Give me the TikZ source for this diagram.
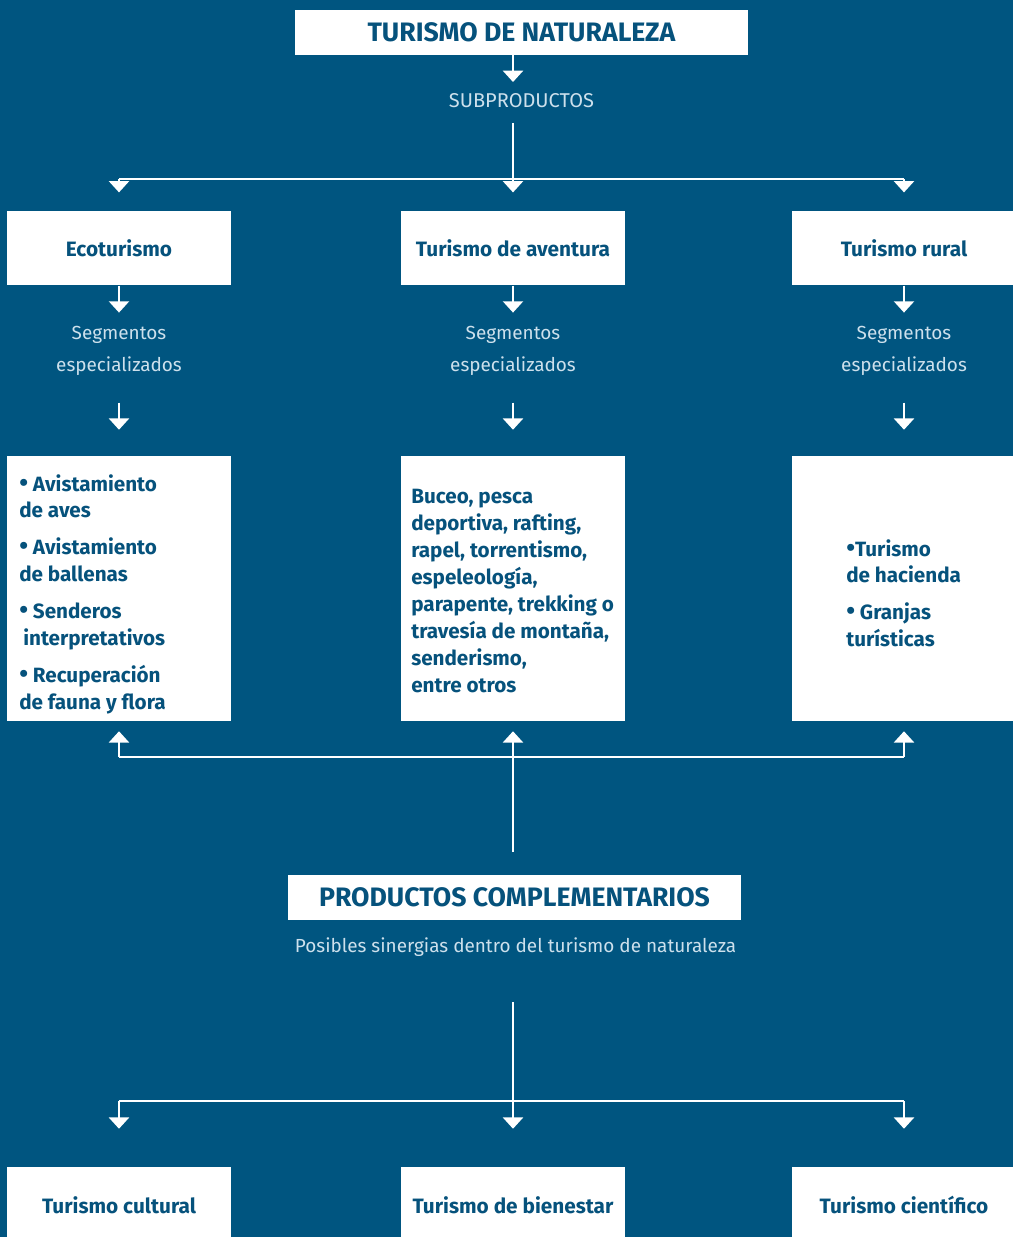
\documentclass[tikz,border=0pt]{standalone}
\usepackage{fontspec}
\setmainfont{Fira Sans}
\usetikzlibrary{arrows.meta}
\definecolor{bg}{RGB}{0,85,128}
\definecolor{ink}{RGB}{6,82,124}
\definecolor{soft}{RGB}{205,224,236}
\newcommand{\bul}{{\fontsize{19}{19}\selectfont•}}
\begin{document}
\begin{tikzpicture}[x=0.75pt,y=-0.75pt,
  wbox/.style={fill=white,draw=none,inner sep=0pt,text=ink,font=\bfseries\fontsize{15.6}{20}\selectfont,align=center},
  headbox/.style={wbox,minimum width=339.75pt,minimum height=33.75pt,font=\bfseries\fontsize{20}{22}\selectfont},
  catbox/.style={wbox,minimum width=168pt,minimum height=56pt},
  listbox/.style={wbox,minimum width=168pt,minimum height=198.75pt},
  listtext/.style={inner sep=0pt,text=ink,align=left,font=\bfseries\fontsize{15.5}{20.2}\selectfont},
  lighttext/.style={inner sep=0pt,text=soft,align=center,font=\fontsize{14.2}{24}\selectfont},
  conn/.style={draw=white,line width=1.8pt},
  arr/.style={conn,-{Triangle[width=15pt,length=8.5pt]}}]
\fill[bg] (0,0) rectangle (1013,1237);
\useasboundingbox (0,0) rectangle (1013,1237);

% top
\node[headbox] (top) at (521.5,32.5) {TURISMO DE NATURALEZA};
\node[lighttext,font=\fontsize{15}{24}\selectfont] (sub) at (521.5,101) {SUBPRODUCTOS};
\coordinate (t1) at (513,82);
\coordinate (s1) at (513,123);
\coordinate (j1) at (513,179);
\coordinate (jl) at (119,179);
\coordinate (jr) at (904,179);

% row 1
\node[catbox] (eco) at (119,248) {Ecoturismo};
\node[catbox] (ave) at (513,248) {Turismo de aventura};
\node[catbox] (rur) at (904,248) {Turismo rural};

\draw[arr] (top.south -| t1) -- (t1);
\draw[conn] (s1) -- (j1);
\draw[conn] (jl) -- (jr);
\draw[arr] (jl) -- ([yshift=13.5pt]eco.north);
\draw[arr] (j1) -- ([yshift=13.5pt]ave.north);
\draw[arr] (jr) -- ([yshift=13.5pt]rur.north);

% segments
\node[lighttext] (seg1) at (119,351) {Segmentos\\especializados};
\node[lighttext] (seg2) at (513,351) {Segmentos\\especializados};
\node[lighttext] (seg3) at (904,351) {Segmentos\\especializados};
\foreach \b in {eco,ave,rur}{
  \draw[arr] (\b.south) -- ++(0,27);
}

% row 2
\node[listbox] (l1) at (119,588.5) {};
\node[listbox] (l2) at (513,588.5) {};
\node[listbox] (l3) at (904,588.5) {};
\foreach \b in {l1,l2,l3}{
  \draw[arr] ([yshift=39.75pt]\b.north) -- ([yshift=19.5pt]\b.north);
}

\node[listtext,anchor=north west] (t1a) at (19,474) {\bul\ Avistamiento\\de aves\\[7.5pt]
\bul\ Avistamiento\\de ballenas\\[7.5pt]
\bul\ Senderos\\\hspace{3pt}interpretativos\\[7.5pt]
\bul\ Recuperación\\de fauna y flora};
\node[listtext,anchor=north west] (t2a) at (411,489) {Buceo, pesca\\deportiva, rafting,\\rapel, torrentismo,\\espeleología,\\parapente, trekking o\\travesía de montaña,\\senderismo,\\entre otros};
\node[listtext,anchor=north west] (t3a) at (846,539) {\bul Turismo\\de hacienda\\[7.5pt]
\bul\ Granjas\\turísticas};

% complementary
\node[headbox] (comp) at (514.5,897.5) {PRODUCTOS COMPLEMENTARIOS};
\node[lighttext] (syn) at (515.5,947) {Posibles sinergias dentro del turismo de naturaleza};
\coordinate (u1) at (513,852);
\coordinate (ul) at (119,757);
\coordinate (ur) at (904,757);
\draw[conn] (ul) -- (ur);
\draw[arr] (u1) -- ([yshift=-7.5pt]l2.south);
\draw[arr] (ul) -- ([yshift=-7.5pt]l1.south);
\draw[arr] (ur) -- ([yshift=-7.5pt]l3.south);

% bottom
\node[catbox,minimum height=57pt] (cul) at (119,1205) {Turismo cultural};
\node[catbox,minimum height=57pt] (bie) at (513,1205) {Turismo de bienestar};
\node[catbox,minimum height=57pt] (cie) at (904,1205) {Turismo científico};
\coordinate (b1) at (513,1002);
\coordinate (bl) at (119,1101);
\coordinate (br) at (904,1101);
\draw[conn] (bl) -- (br);
\draw[arr] (b1) -- ([yshift=28.5pt]bie.north);
\draw[arr] (bl) -- ([yshift=28.5pt]cul.north);
\draw[arr] (br) -- ([yshift=28.5pt]cie.north);
\end{tikzpicture}
\end{document}
